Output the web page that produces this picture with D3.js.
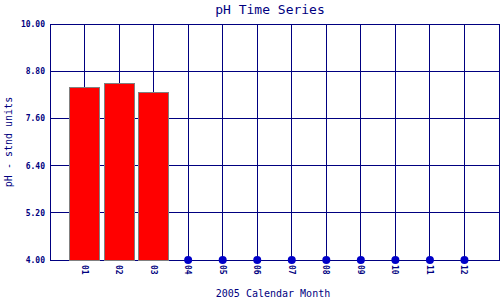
<!DOCTYPE html>
<html lang="en">
<head>
<meta charset="utf-8">
<title>pH Time Series</title>
<script src="https://d3js.org/d3.v7.min.js"></script>
<style>
  body { margin: 0; background: #fff; }
  text { font-family: "DejaVu Sans Mono", monospace; fill: #000080; }
  line, rect { shape-rendering: crispEdges; }
</style>
</head>
<body>
<script>
// data
var months = ["01","02","03","04","05","06","07","08","09","10","11","12"];
var phValues = [8.39, 8.49, 8.26, null, null, null, null, null, null, null, null, null];
var yTicks = [4.00, 5.20, 6.40, 7.60, 8.80, 10.00];

var w = 500, h = 300;
var margin = {left: 50, right: 1, top: 24, bottom: 40};

var svg = d3.select("body").append("svg").attr("width", w).attr("height", h);

var x = d3.scalePoint().domain(months).range([margin.left, w - margin.right]).padding(1);
var y = d3.scaleLinear().domain([4, 10]).range([h - margin.bottom, margin.top]);

var navy = "#000080";

// grid lines
svg.append("g").selectAll("line.h").data(yTicks).enter().append("line")
  .attr("x1", margin.left).attr("x2", w - margin.right)
  .attr("y1", d => y(d)).attr("y2", d => y(d))
  .attr("stroke", navy).attr("stroke-width", 1);
svg.append("g").selectAll("line.v").data(months).enter().append("line")
  .attr("x1", d => x(d)).attr("x2", d => x(d))
  .attr("y1", margin.top).attr("y2", h - margin.bottom)
  .attr("stroke", navy).attr("stroke-width", 1);

// frame
svg.append("rect")
  .attr("x", margin.left).attr("y", margin.top)
  .attr("width", w - margin.right - margin.left)
  .attr("height", h - margin.bottom - margin.top)
  .attr("fill", "none").attr("stroke", navy);

// bars
var barW = 30;
svg.append("g").selectAll("rect").data(months.filter((m, i) => phValues[i] != null)).enter()
  .append("rect")
  .attr("x", d => x(d) - barW / 2)
  .attr("y", d => y(phValues[months.indexOf(d)]))
  .attr("width", barW)
  .attr("height", d => y(4) - y(phValues[months.indexOf(d)]))
  .attr("fill", "#ff0000").attr("stroke", "#808080").attr("stroke-width", 1);

// missing months as dots on the baseline
svg.append("g").selectAll("circle").data(months.filter((m, i) => phValues[i] == null)).enter()
  .append("circle")
  .attr("cx", d => x(d)).attr("cy", y(4)).attr("r", 4)
  .attr("fill", "#0000c8");

// y tick labels
svg.append("g").selectAll("text").data(yTicks).enter().append("text")
  .attr("x", 45).attr("y", d => y(d) + 3)
  .attr("text-anchor", "end")
  .style("font-size", "8px").style("font-weight", "bold")
  .text(d => d.toFixed(2));

// x tick labels (rotated)
svg.append("g").selectAll("text").data(months).enter().append("text")
  .attr("transform", d => "translate(" + (x(d) - 3) + "," + (h - margin.bottom + 5) + ") rotate(90)")
  .attr("text-anchor", "start")
  .style("font-size", "8px").style("font-weight", "bold")
  .text(d => d);

// title and axis titles
svg.append("text").attr("x", 270).attr("y", 14).attr("text-anchor", "middle")
  .style("font-size", "13px").text("pH Time Series");
svg.append("text").attr("x", 273).attr("y", 297).attr("text-anchor", "middle")
  .style("font-size", "10px").text("2005 Calendar Month");
svg.append("text").attr("transform", "translate(12,142) rotate(-90)").attr("text-anchor", "middle")
  .style("font-size", "10px").text("pH - stnd units");
</script>
</body>
</html>
